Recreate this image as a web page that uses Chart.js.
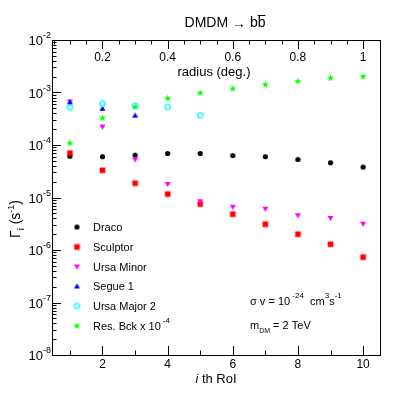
<!DOCTYPE html>
<html><head><meta charset="utf-8">
<script src="https://cdn.jsdelivr.net/npm/chart.js@4/dist/chart.umd.min.js"></script>
<style>html,body{margin:0;padding:0;background:#fff;}#wrap{width:411px;height:395px;position:relative;}</style>
</head><body><div id="wrap"><canvas id="c"></canvas></div>
<script>
// ---- data ----
const roi = [1,2,3,4,5,6,7,8,9,10];
const draco      = [6.1e-5,6.0e-5,6.4e-5,6.9e-5,6.9e-5,6.3e-5,6.0e-5,5.3e-5,4.6e-5,3.8e-5];
const sculptor   = [7.0e-5,3.3e-5,1.87e-5,1.16e-5,7.5e-6,4.8e-6,3.1e-6,2.0e-6,1.29e-6,7.3e-7];
const ursaMinor  = [6.6e-4,2.2e-4,5.2e-5,1.77e-5,8.3e-6,6.5e-6,6.0e-6,4.5e-6,4.0e-6,3.1e-6];
const segue1     = [6.6e-4,5.0e-4,3.7e-4];
const ursaMajor2 = [5.2e-4,6.1e-4,5.6e-4,5.3e-4,3.7e-4];
const resBck     = [1.08e-4,3.26e-4,5.3e-4,7.7e-4,9.8e-4,1.18e-3,1.41e-3,1.63e-3,1.88e-3,2.02e-3];
const seriesNames = ['Draco','Sculptor','Ursa Minor','Segue 1','Ursa Major 2','Res. Bck x 10'];
const roiTickLabels = [2,4,6,8,10];
const roiMinorTicks = [1,3,5,7,9];
const radiusTickLabels = [0.2,0.4,0.6,0.8,1];
const decades = [-8,-7,-6,-5,-4,-3,-2];

// ---- markers ----
function mk(draw){const c=document.createElement('canvas');c.width=11;c.height=11;const g=c.getContext('2d');draw(g,5.5);return c;}
const mCircle=mk((g,c)=>{g.fillStyle='#000';g.beginPath();g.arc(c,c,2.6,0,2*Math.PI);g.fill();});
const mSquare=mk((g,c)=>{g.fillStyle='#ff0000';g.fillRect(c-2.8,c-2.8,5.6,5.6);});
const mDown=mk((g,c)=>{g.fillStyle='#ff00ff';g.beginPath();g.moveTo(c-3,c-2.4);g.lineTo(c+3,c-2.4);g.lineTo(c,c+2.8);g.closePath();g.fill();});
const mUp=mk((g,c)=>{g.fillStyle='#0000ff';g.beginPath();g.moveTo(c-3,c+2.4);g.lineTo(c+3,c+2.4);g.lineTo(c,c-2.8);g.closePath();g.fill();});
const mOpen=mk((g,c)=>{g.strokeStyle='#00ffff';g.lineWidth=1.3;g.beginPath();g.arc(c,c,2.6,0,2*Math.PI);g.stroke();});
const mStar=mk((g,c)=>{g.fillStyle='#00ff00';g.beginPath();for(let i=0;i<10;i++){const r=i%2?1.6:3.8;const a=-Math.PI/2+i*Math.PI/5;const px=c+r*Math.cos(a),py=c+r*Math.sin(a);i?g.lineTo(px,py):g.moveTo(px,py);}g.closePath();g.fill();});
const markers=[mCircle,mSquare,mDown,mUp,mOpen,mStar];

const pts=arr=>arr.map((v,i)=>({x:roi[i],y:v}));
const allSeries=[draco,sculptor,ursaMinor,segue1,ursaMajor2,resBck];
const datasets=allSeries.map((s,i)=>({label:seriesNames[i],data:pts(s),pointStyle:markers[i],pointRadius:4,showLine:false,order:6-i}));

const F='"Liberation Sans", Arial, Helvetica, sans-serif';
function rich(ctx,parts,x,y,align){
  let w=0;parts.forEach(p=>{ctx.font=(p.it?'italic ':'')+p.s+'px '+F;p.w=ctx.measureText(p.t).width;w+=p.w;});
  let cx=align==='center'?x-w/2:(align==='right'?x-w:x);
  parts.forEach(p=>{ctx.font=(p.it?'italic ':'')+p.s+'px '+F;ctx.fillText(p.t,cx,y+(p.dy||0));p.x=cx;cx+=p.w;});
  return parts;
}

const deco={id:'deco',
 beforeDatasetsDraw(chart){
  const ctx=chart.ctx,a=chart.chartArea,sx=chart.scales.x,sy=chart.scales.y,st=chart.scales.x2;
  ctx.save();ctx.strokeStyle='#000';ctx.lineWidth=1;
  ctx.strokeRect(a.left+0.5,a.top+0.5,a.right-a.left-1,a.bottom-a.top);
  ctx.beginPath();
  roiTickLabels.forEach(v=>{const x=Math.round(sx.getPixelForValue(v))+0.5;ctx.moveTo(x,a.bottom);ctx.lineTo(x,a.bottom-9);});
  roiMinorTicks.forEach(v=>{const x=Math.round(sx.getPixelForValue(v))+0.5;ctx.moveTo(x,a.bottom);ctx.lineTo(x,a.bottom-4.5);});
  for(let k=1;k<=20;k++){const r=k*0.05;if(r>1.001)break;const x=Math.round(st.getPixelForValue(r))+0.5;const major=(k%4===0);ctx.moveTo(x,a.top);ctx.lineTo(x,a.top+(major?9:4.5));}
  decades.forEach(d=>{const y=Math.round(sy.getPixelForValue(Math.pow(10,d)))+0.5;ctx.moveTo(a.left,y);ctx.lineTo(a.left+9,y);
    if(d<-2){for(let m=2;m<=9;m++){const yy=Math.round(sy.getPixelForValue(m*Math.pow(10,d)))+0.5;ctx.moveTo(a.left,yy);ctx.lineTo(a.left+4.5,yy);}}});
  ctx.stroke();ctx.restore();
 },
 afterDraw(chart){
  const ctx=chart.ctx,a=chart.chartArea,sx=chart.scales.x,sy=chart.scales.y,st=chart.scales.x2;
  ctx.save();ctx.fillStyle='#000';ctx.textBaseline='alphabetic';
  // title
  const tp=rich(ctx,[{t:'DMDM ',s:14},{t:'\u2192',s:14,dy:1},{t:' b',s:14},{t:'b',s:14}],225,27,'center');
  const lb=tp[3];ctx.fillRect(lb.x,15,lb.w,1);
  // top axis
  ctx.textAlign='center';ctx.font='12px '+F;
  radiusTickLabels.forEach(v=>ctx.fillText(String(v),st.getPixelForValue(v),61));
  ctx.font='13px '+F;ctx.fillText('radius (deg.)',214,76);
  // bottom axis
  ctx.font='12px '+F;
  roiTickLabels.forEach(v=>ctx.fillText(String(v),sx.getPixelForValue(v),368));
  ctx.textAlign='left';
  rich(ctx,[{t:'i',s:13,it:true},{t:' th RoI',s:13}],216,383,'center');
  // y tick labels
  decades.forEach(d=>{const y=sy.getPixelForValue(Math.pow(10,d));
    ctx.font='13px '+F;ctx.textAlign='right';ctx.fillText('10',43,y+5);
    ctx.font='9px '+F;ctx.textAlign='left';ctx.fillText(String(d),43,y-2);});
  // y label
  ctx.save();ctx.translate(20,219);ctx.rotate(-Math.PI/2);ctx.textAlign='left';
  rich(ctx,[{t:'\u0393',s:14},{t:'i',s:9,dy:4},{t:' (s',s:14},{t:'-1',s:9,dy:-6},{t:')',s:14}],0,0,'center');
  ctx.restore();
  // legend
  ctx.textAlign='left';
  const ly=[227,247,267,286,306,326];
  seriesNames.forEach((n,i)=>{ctx.drawImage(markers[i],77-5.5,ly[i]-5.5);
    ctx.font='11px '+F;ctx.fillText(n,93,ly[i]+4);
    if(i===5){const w=ctx.measureText(n).width;ctx.font='8px '+F;ctx.fillText('-4',93+w+2,ly[i]-3);}});
  // annotations
  rich(ctx,[{t:'\u03c3 v = 10',s:11},{t:' -24',s:8,dy:-7},{t:'  cm',s:11},{t:'3',s:8,dy:-7},{t:'s',s:11},{t:'-1',s:8,dy:-7}],250,305,'left');
  rich(ctx,[{t:'m',s:11},{t:'DM',s:7,dy:4},{t:' = 2 TeV',s:11}],250,329,'left');
  ctx.restore();
 }};

new Chart(document.getElementById('c'),{
 type:'scatter',
 data:{datasets},
 options:{responsive:true,maintainAspectRatio:false,animation:false,devicePixelRatio:1,
  layout:{padding:{left:52,right:30,top:40,bottom:40}},
  plugins:{legend:{display:false},tooltip:{enabled:false}},
  scales:{
   x:{type:'linear',min:0.45,max:10.55,display:false},
   x2:{type:'linear',position:'top',min:0.045,max:1.055,display:false},
   y:{type:'logarithmic',min:1e-8,max:1e-2,display:false}
  }},
 plugins:[deco]
});
</script></body></html>
